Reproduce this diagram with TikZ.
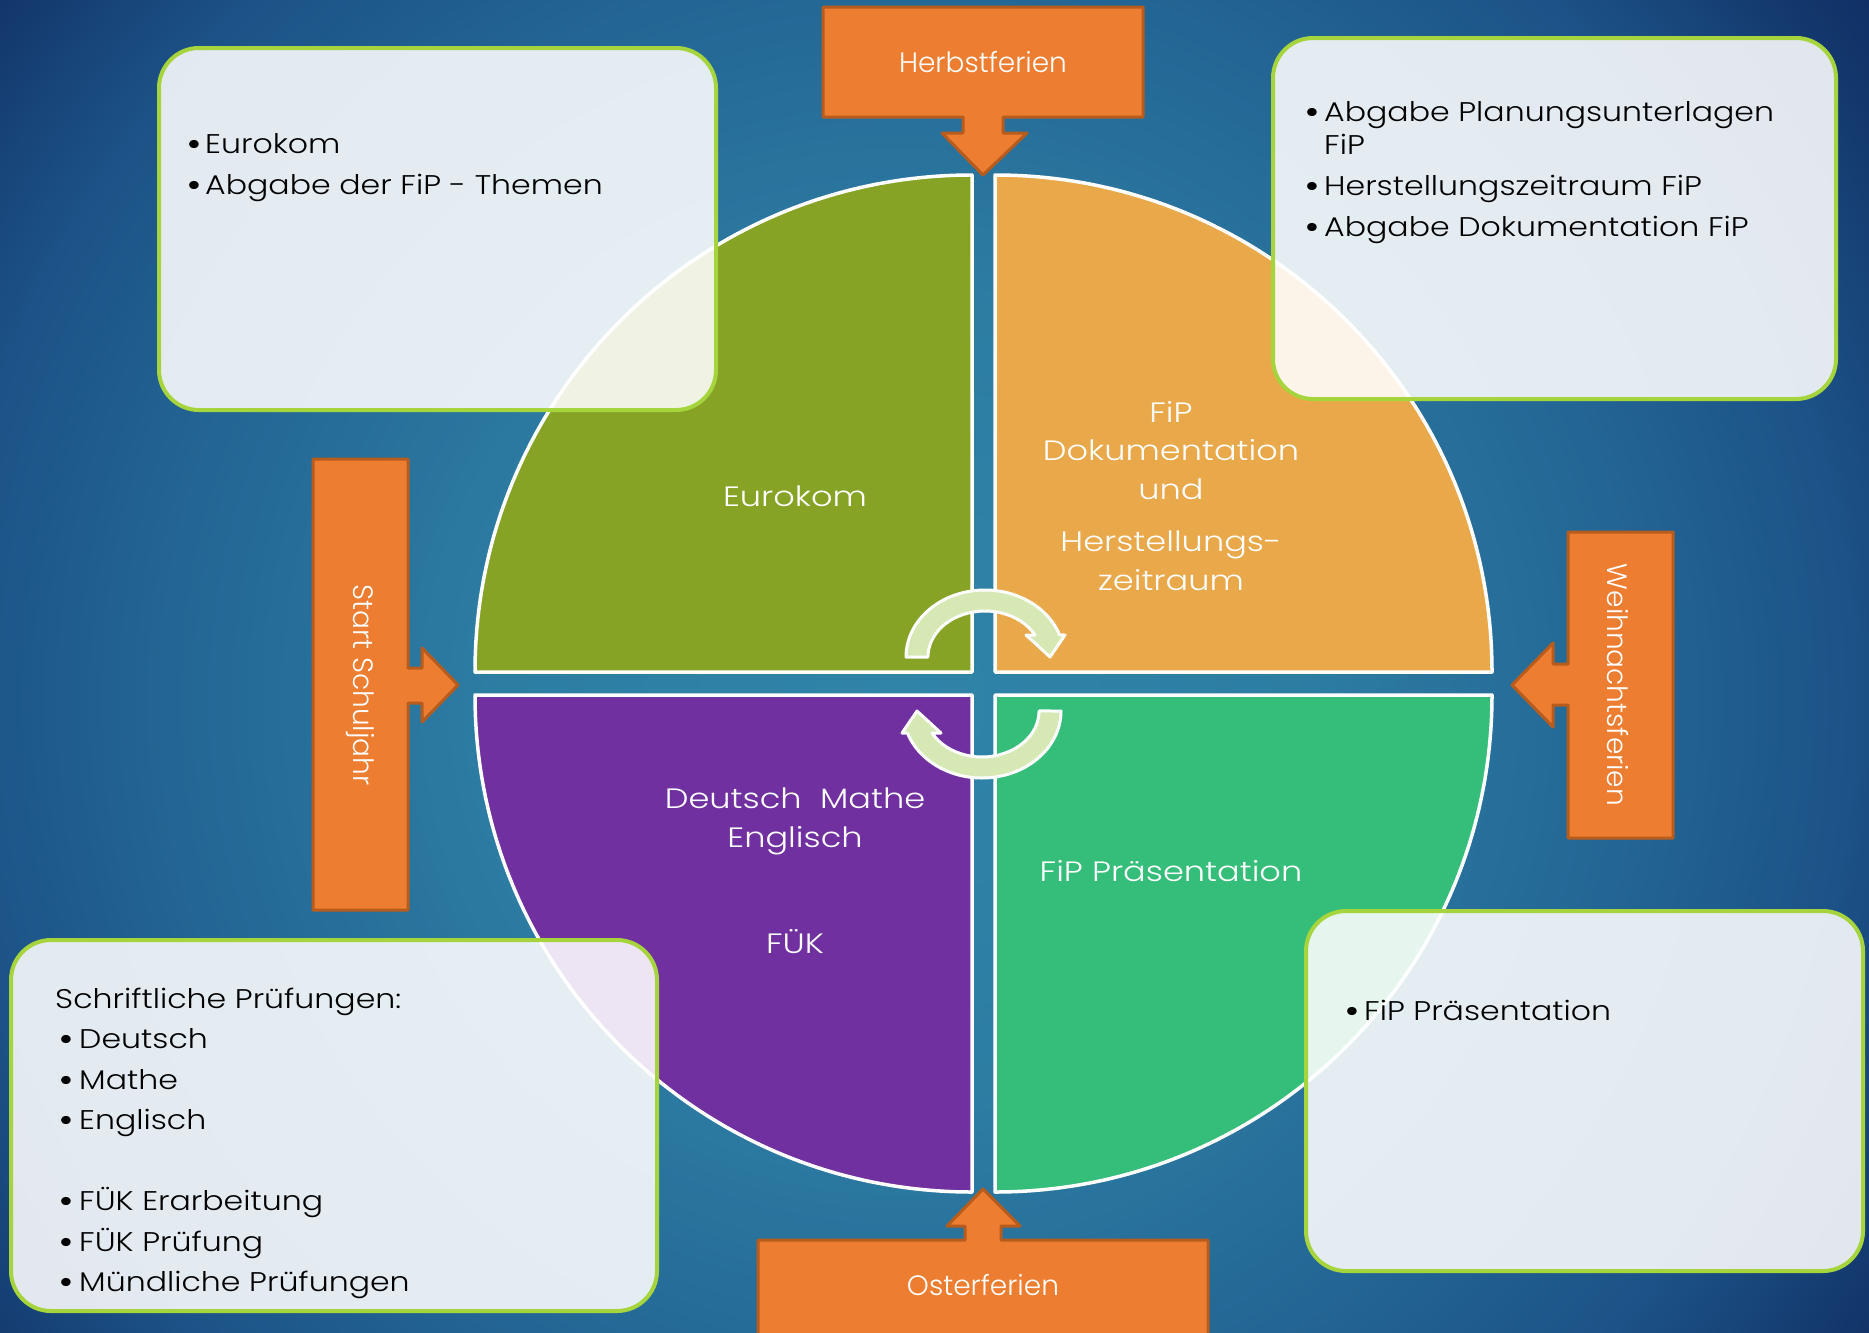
\documentclass[tikz,border=0pt]{standalone}
\usepackage{fontspec}
\setmainfont{Poppins}[UprightFont=* Light, BoldFont=* Bold]
\newfontfamily\listfont{Poppins}[UprightFont=* Light, BoldFont=* Bold, FakeStretch=1.17]
\newfontfamily\circfont{Poppins}[UprightFont=* Light, BoldFont=* Bold, FakeStretch=1.2]
\newcommand{\bul}{\hspace*{-4pt}\textbf{\textbullet}}

\definecolor{bgin}{RGB}{48,132,168}
\definecolor{bglight}{RGB}{45,125,163}
\definecolor{bgmid}{RGB}{36,104,150}
\definecolor{bgout}{RGB}{28,82,135}
\definecolor{bgdeep}{RGB}{18,52,105}
\definecolor{bgdark}{RGB}{15,44,98}
\definecolor{euro}{RGB}{134,163,38}
\definecolor{fip}{RGB}{233,168,74}
\definecolor{pruef}{RGB}{112,48,160}
\definecolor{praes}{RGB}{53,189,122}
\definecolor{calloutfill}{RGB}{237,125,49}
\definecolor{calloutline}{RGB}{184,92,30}
\definecolor{notegreen}{RGB}{166,212,60}
\definecolor{turnfill}{RGB}{214,232,180}

\pgfdeclareradialshading{bgshade}{\pgfpoint{0bp}{0bp}}{color(0bp)=(bgin); color(400bp)=(bglight); color(700bp)=(bgmid); color(950bp)=(bgout); color(1150bp)=(bgdeep); color(1250bp)=(bgdark)}

\begin{document}
\begin{tikzpicture}[x=1pt, y=1pt]
	\tikzset{
		quarter/.style={fill=#1, draw=white, line width=3.5, line join=round},
		quartext/.style={text=white, align=center, inner sep=0, font=\circfont\fontsize{28}{38.5}\selectfont},
		callout/.style={fill=calloutfill, draw=calloutline, line width=3, line join=round},
		calltext/.style={text=white, inner sep=0, font=\fontsize{28}{34}\selectfont},
		note/.style={rectangle, rounded corners=40, draw=notegreen, line width=4, fill=white, fill opacity=0.88, inner sep=0, outer sep=0},
		listtext/.style={anchor=base west, inner sep=0, text=black, font=\listfont\fontsize{27}{33}\selectfont},
		turnarrow/.style={fill=turnfill, draw=white, line width=3, line join=round},
		turn/.pic={
			\filldraw[turnarrow] (-79,0) arc[start angle=180, end angle=19.2, x radius=79, y radius=67]
				-- (80,22) -- (65,0) -- (41,22) -- (50,22)
				arc[start angle=28.6, end angle=180, x radius=57, y radius=46] -- cycle;
		}
	}
	
	% Background
	\useasboundingbox (0,0) rectangle (1869,-1333);
	\node[inner sep=0, outer sep=0] (bg) at (900,-700) {\pgfuseshading{bgshade}};
	
	% Quarter circle
	\foreach \qcol/\qx/\qy/\ang in {euro/-1/1/90, fip/1/1/0, pruef/-1/-1/180, praes/1/-1/270}{
		\filldraw[quarter=\qcol] (983.5+11.5*\qx, -683.5+11.5*\qy) -- ++(\ang:497)
			arc[start angle=\ang, delta angle=90, radius=497] -- cycle;
	}
	\node[quartext] (eurokom) at (795,-496) {Eurokom};
	\node[quartext] (fipdoku) at (1171,-496) {FiP\\Dokumentation\\und\\[14pt]Herstellungs-\\zeitraum};
	\node[quartext] (faecher) at (795,-871) {Deutsch\ \ Mathe\\Englisch\\[68pt]FÜK};
	\node[quartext] (fippraes) at (1171,-871) {FiP Präsentation};
	
	% Turning arrows
	\pic at (985,-657) {turn};
	\pic[rotate=180] at (982,-711) {turn};
	
	% Notes
	\node[note, minimum width=557, minimum height=362] (tlbox) at (437.5,-229) {};
	\node[note, minimum width=563, minimum height=361] (trbox) at (1554.5,-218.5) {};
	\node[note, minimum width=646, minimum height=371] (blbox) at (334,-1125.5) {};
	\node[note, minimum width=557, minimum height=360] (brbox) at (1584.5,-1091) {};
	
	\node[listtext] (tllist) at ([xshift=31, yshift=-105]tlbox.north west) {%
		\begin{tabular}[t]{@{}p{15pt}@{}l@{}}
			\bul & Eurokom\\[8pt]
			\bul & Abgabe der FiP - Themen
		\end{tabular}};
	\node[listtext] (trlist) at ([xshift=35, yshift=-83]trbox.north west) {%
		\begin{tabular}[t]{@{}p{16pt}@{}l@{}}
			\bul & Abgabe Planungsunterlagen\\
			 & FiP\\[8pt]
			\bul & Herstellungszeitraum FiP\\[8pt]
			\bul & Abgabe Dokumentation FiP
		\end{tabular}};
	\node[listtext] (bllist) at ([xshift=44, yshift=-68]blbox.north west) {%
		\begin{tabular}[t]{@{\hspace{7pt}}p{17pt}@{}l@{}}
			\multicolumn{2}{@{}l@{}}{Schriftliche Prüfungen:}\\[7.5pt]
			\bul & Deutsch\\[7.5pt]
			\bul & Mathe\\[7.5pt]
			\bul & Englisch\\[7.5pt]
			 & \\[7.5pt]
			\bul & FÜK Erarbeitung\\[7.5pt]
			\bul & FÜK Prüfung\\[7.5pt]
			\bul & Mündliche Prüfungen
		\end{tabular}};
	\node[listtext] (brlist) at ([xshift=42, yshift=-109]brbox.north west) {%
		\begin{tabular}[t]{@{}p{16pt}@{}l@{}}
			\bul & FiP Präsentation
		\end{tabular}};
	
	% Holiday callouts
	\filldraw[callout] (823,-7) -- (1143,-7) -- (1143,-117) -- (1003,-117) -- (1003,-133) -- (1027,-133)
		-- (983,-175) -- (942,-133) -- (963,-133) -- (963,-117) -- (823,-117) -- cycle;
	\node[calltext] (herbst) at (983,-62) {Herbstferien};
	
	\filldraw[callout] (313,-459) -- (408,-459) -- (408,-668) -- (422,-668) -- (422,-648) -- (458,-685)
		-- (422,-722) -- (422,-703) -- (408,-703) -- (408,-910) -- (313,-910) -- cycle;
	\node[calltext, rotate=-90] (start) at (360,-685) {Start Schuljahr};
	
	\filldraw[callout] (1568,-532) -- (1673,-532) -- (1673,-838) -- (1568,-838) -- (1568,-705) -- (1553,-705)
		-- (1553,-727) -- (1512,-685) -- (1553,-643) -- (1553,-664) -- (1568,-664) -- cycle;
	\node[calltext, rotate=-90] (weihn) at (1618,-685) {Weihnachtsferien};
	
	\filldraw[callout] (758,-1240) -- (965,-1240) -- (965,-1226) -- (947,-1226) -- (983,-1189) -- (1020,-1226)
		-- (1001,-1226) -- (1001,-1240) -- (1208,-1240) -- (1208,-1345) -- (758,-1345) -- cycle;
	\node[calltext] (oster) at (983,-1285) {Osterferien};
\end{tikzpicture}
\end{document}
